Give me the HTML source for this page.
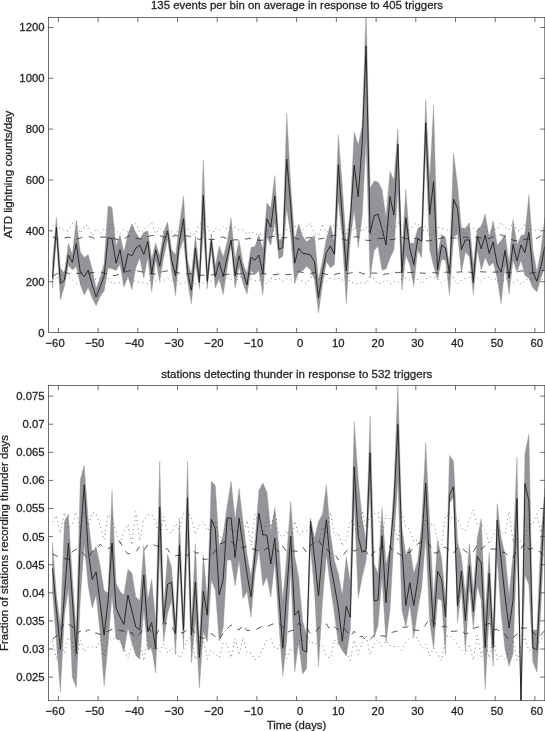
<!DOCTYPE html>
<html lang="en"><head><meta charset="utf-8"><title>Superposed epoch analysis</title>
<style>html,body{margin:0;padding:0;background:#fff}body{width:545px;height:731px;overflow:hidden}svg{display:block}text{font-family:"Liberation Sans",sans-serif;fill:#231f20;stroke:#231f20;stroke-width:0.28px}</style></head><body>
<svg width="545" height="731" viewBox="0 0 545 731">
<rect width="545" height="731" fill="#fff"/>
<defs><clipPath id="ct"><rect x="48.5" y="17.5" width="496.3" height="315"/></clipPath><clipPath id="cb"><rect x="48.5" y="385.6" width="496.3" height="315.1"/></clipPath></defs>
<g clip-path="url(#ct)">
<path d="M52.5,262 L56.4,217.5 L60.4,268.3 L64.4,273 L68.4,243 L72.3,254.5 L76.3,220.3 L80.3,252 L84.2,257.5 L88.2,254.4 L92.2,269.4 L96.1,288.3 L100.1,278.3 L104.1,263.8 L108.1,205.9 L112,207.3 L116,245.9 L120,234.9 L123.9,252.3 L127.9,234 L131.9,224 L135.8,232.4 L139.8,238.8 L143.8,232.5 L147.8,230.8 L151.7,259.4 L155.7,242.9 L159.7,255.7 L163.6,232.3 L167.6,221.8 L171.6,249.6 L175.6,254.9 L179.5,224.8 L183.5,196 L187.5,260 L191.4,275 L195.4,236 L199.4,270.7 L203.3,160 L207.3,270.7 L211.3,233.9 L215.3,266 L219.2,245.9 L223.2,257 L227.2,242 L231.1,218 L235.1,259.4 L239.1,240.6 L243,263.2 L247,273.7 L251,247.4 L255,246.6 L258.9,234.6 L262.9,249.7 L266.9,203 L270.8,208 L274.8,175.5 L278.8,239.9 L282.8,238.4 L286.7,113.3 L290.7,185 L294.7,240.6 L298.6,224 L302.6,236 L306.6,241.8 L310.5,238.8 L314.5,235.4 L318.5,279.7 L322.5,260.2 L326.4,238.4 L330.4,224.8 L334.4,242 L338.3,135.1 L342.3,186 L346.3,245 L350.3,210 L354.2,132 L358.2,144.9 L362.2,126 L366.1,10 L370.1,188.5 L374.1,181 L378,182 L382,189.5 L386,217.5 L390,171.2 L393.9,180.2 L397.9,129 L401.9,255 L405.8,189.4 L409.8,243.2 L413.8,243.2 L417.7,228.5 L421.7,226 L425.7,99.5 L429.7,180 L433.6,105.5 L437.6,255 L441.6,234.2 L445.5,237.6 L449.5,266.2 L453.5,153 L457.5,185 L461.4,227.8 L465.4,228.2 L469.4,222.6 L473.3,265 L477.3,229.3 L481.3,226.3 L485.2,214 L489.2,237.6 L493.2,221 L497.2,245 L501.1,240.6 L505.1,234.6 L509.1,263.2 L513,219.6 L517,245 L521,235.4 L524.9,234.6 L528.9,195 L532.9,249.7 L536.9,272.2 L540.8,251 L544.8,218 L544.8,267.7 L540.8,278.2 L536.9,291.8 L532.9,288 L528.9,278.2 L524.9,275.2 L521,260.2 L517,272.2 L513,260.2 L509.1,294 L505.1,264.7 L501.1,303.8 L497.2,278.2 L493.2,262.4 L489.2,266.2 L485.2,257.2 L481.3,270 L477.3,249.7 L473.3,294.4 L469.4,256.7 L465.4,252 L461.4,272.2 L457.5,233.9 L453.5,237.6 L449.5,295.5 L445.5,260 L441.6,259.4 L437.6,279.7 L433.6,266 L429.7,249.7 L425.7,150 L421.7,258 L417.7,249.7 L413.8,286.5 L409.8,265 L405.8,255 L401.9,290 L397.9,190 L393.9,250 L390,258 L386,269 L382,270 L378,246.3 L374.1,250.5 L370.1,278 L366.1,140 L362.2,216 L358.2,247.3 L354.2,210 L350.3,240 L346.3,303.8 L342.3,238 L338.3,200 L334.4,264.7 L330.4,267.7 L326.4,261.7 L322.5,284.3 L318.5,313 L314.5,279.7 L310.5,270 L306.6,266.2 L302.6,270.7 L298.6,272.2 L294.7,283.5 L290.7,235 L286.7,208 L282.8,256.4 L278.8,258.7 L274.8,222 L270.8,245.5 L266.9,236.9 L262.9,294.8 L258.9,270.7 L255,274.5 L251,270.7 L247,294 L243,283.5 L239.1,266.2 L235.1,288 L231.1,245 L227.2,267.7 L223.2,294.8 L219.2,278.2 L215.3,288 L211.3,249.7 L207.3,288.8 L203.3,230 L199.4,288.8 L195.4,263 L191.4,303.8 L187.5,281 L183.5,239 L179.5,251 L175.6,295.5 L171.6,270.7 L167.6,239 L163.6,258 L159.7,281.3 L155.7,259.4 L151.7,291.8 L147.8,257 L143.8,278.2 L139.8,258 L135.8,267.7 L131.9,289.7 L127.9,276.5 L123.9,287.2 L120,264.2 L116,270.6 L112,268.8 L108.1,267.9 L104.1,291 L100.1,296.5 L96.1,305.8 L92.2,298 L88.2,287.5 L84.2,295 L80.3,284.6 L76.3,266.4 L72.3,270 L68.4,265 L64.4,286 L60.4,300 L56.4,238 L52.5,288Z" fill="#939598" stroke="#939598" stroke-width="0.4" stroke-linejoin="miter"/>
<path d="M52.5,236.8 L56.4,238.7 L60.4,239.1 L64.4,238 L68.4,237.1 L72.3,238.3 L76.3,239.2 L80.3,238.1 L84.2,236.2 L88.2,236.4 L92.2,237.4 L96.1,239.6 L100.1,237.1 L104.1,237.1 L108.1,237 L112,237.7 L116,239.2 L120,239.7 L123.9,239.1 L127.9,236.4 L131.9,235.3 L135.8,238 L139.8,239.1 L143.8,238.1 L147.8,236.6 L151.7,235.5 L155.7,235.5 L159.7,235.6 L163.6,237 L167.6,237 L171.6,236.4 L175.6,235.5 L179.5,236.2 L183.5,236.4 L187.5,235.8 L191.4,236.9 L195.4,237.7 L199.4,239.6 L203.3,237.7 L207.3,239 L211.3,239.6 L215.3,239.4 L219.2,237.4 L223.2,237 L227.2,238.8 L231.1,240.6 L235.1,239.7 L239.1,240.1 L243,239.3 L247,238.9 L251,238.2 L255,238.8 L258.9,240.4 L262.9,240.2 L266.9,239.3 L270.8,236.9 L274.8,236.1 L278.8,236.7 L282.8,237.9 L286.7,237.7 L290.7,236.9 L294.7,237.8 L298.6,239.3 L302.6,238.8 L306.6,238 L310.5,237.5 L314.5,238.7 L318.5,238.9 L322.5,238.6 L326.4,237.7 L330.4,236.2 L334.4,235.2 L338.3,235.8 L342.3,238.7 L346.3,240.3 L350.3,239.4 L354.2,237 L358.2,236.7 L362.2,238.5 L366.1,240.3 L370.1,240.4 L374.1,240 L378,238.4 L382,238.3 L386,238.6 L390,239.6 L393.9,239.5 L397.9,237.4 L401.9,237.3 L405.8,238.8 L409.8,238 L413.8,238.7 L417.7,238.3 L421.7,241 L425.7,240.8 L429.7,240.8 L433.6,239.7 L437.6,239.2 L441.6,238 L445.5,236.6 L449.5,237.6 L453.5,238 L457.5,238.4 L461.4,237.3 L465.4,237.1 L469.4,237.5 L473.3,237.1 L477.3,237.2 L481.3,238 L485.2,238.8 L489.2,238.6 L493.2,236.8 L497.2,235.6 L501.1,234.8 L505.1,236.5 L509.1,238.4 L513,240.2 L517,240.9 L521,240.7 L524.9,239.1 L528.9,239.2 L532.9,238.8 L536.9,238.3 L540.8,235.8 L544.8,233.8" fill="none" stroke="#231f20" stroke-width="0.75" stroke-dasharray="6.2 6.4"/>
<path d="M52.5,276.2 L56.4,274.1 L60.4,272 L64.4,271.8 L68.4,273.4 L72.3,274.7 L76.3,273.5 L80.3,273.2 L84.2,273 L88.2,273.7 L92.2,272.6 L96.1,272.2 L100.1,271.8 L104.1,273.1 L108.1,274.4 L112,275.7 L116,275.3 L120,274 L123.9,272.4 L127.9,271.2 L131.9,270.3 L135.8,270.7 L139.8,271.4 L143.8,272.2 L147.8,273.2 L151.7,273.7 L155.7,274.1 L159.7,272.6 L163.6,271.4 L167.6,270.9 L171.6,270.6 L175.6,271.8 L179.5,273.3 L183.5,274.6 L187.5,273.8 L191.4,273.6 L195.4,273.9 L199.4,275.2 L203.3,275.2 L207.3,275.1 L211.3,275.2 L215.3,273.9 L219.2,274.5 L223.2,274.9 L227.2,274.4 L231.1,273.9 L235.1,273.3 L239.1,274 L243,273.5 L247,273 L251,274 L255,274 L258.9,274.8 L262.9,273.4 L266.9,274.3 L270.8,274.5 L274.8,274.7 L278.8,274 L282.8,274 L286.7,274.7 L290.7,274.5 L294.7,272.8 L298.6,271.9 L302.6,272.4 L306.6,272.3 L310.5,273.6 L314.5,272.6 L318.5,274.4 L322.5,273 L326.4,274.6 L330.4,274.1 L334.4,274.6 L338.3,273.5 L342.3,273.4 L346.3,273.6 L350.3,273.1 L354.2,272.1 L358.2,271.9 L362.2,273.4 L366.1,274.3 L370.1,273.3 L374.1,273 L378,273.3 L382,275.2 L386,273.8 L390,273.8 L393.9,271.8 L397.9,272.9 L401.9,271.8 L405.8,272.2 L409.8,272.7 L413.8,272.3 L417.7,273 L421.7,273 L425.7,273.3 L429.7,272.6 L433.6,272.6 L437.6,273 L441.6,274.2 L445.5,272.2 L449.5,272.1 L453.5,270.8 L457.5,272.3 L461.4,271.7 L465.4,273.5 L469.4,272 L473.3,273.5 L477.3,271.3 L481.3,271.8 L485.2,272 L489.2,272.4 L493.2,272.2 L497.2,271.9 L501.1,272.4 L505.1,272.1 L509.1,272.8 L513,272.3 L517,272.2 L521,270.7 L524.9,271.8 L528.9,273.5 L532.9,272.9 L536.9,272.3 L540.8,270.6 L544.8,270.4" fill="none" stroke="#231f20" stroke-width="0.75" stroke-dasharray="6.2 6.4"/>
<path d="M52.5,225.6 L56.4,229.6 L60.4,227.3 L64.4,230.4 L68.4,230.6 L72.3,223.4 L76.3,222.7 L80.3,233.4 L84.2,225.9 L88.2,225.5 L92.2,235.4 L96.1,228.6 L100.1,233.4 L104.1,228.7 L108.1,230.8 L112,224.5 L116,230.8 L120,233.8 L123.9,229.3 L127.9,232.1 L131.9,231.2 L135.8,223.3 L139.8,232.4 L143.8,230.2 L147.8,226.4 L151.7,222.9 L155.7,233.8 L159.7,228.6 L163.6,231.8 L167.6,233.9 L171.6,231.8 L175.6,234.5 L179.5,227.6 L183.5,232.9 L187.5,228.3 L191.4,234.7 L195.4,233.9 L199.4,223.8 L203.3,224.3 L207.3,225.3 L211.3,235.1 L215.3,228.2 L219.2,230.6 L223.2,226.4 L227.2,229.1 L231.1,227.5 L235.1,227.1 L239.1,230.1 L243,230.1 L247,234.3 L251,231.4 L255,234.6 L258.9,233.6 L262.9,235.4 L266.9,231.2 L270.8,224.6 L274.8,233.7 L278.8,235 L282.8,234.3 L286.7,229.9 L290.7,231.8 L294.7,225.2 L298.6,233.3 L302.6,230 L306.6,226.2 L310.5,223.3 L314.5,233.6 L318.5,235.4 L322.5,223.7 L326.4,232.9 L330.4,227.8 L334.4,224.5 L338.3,226.3 L342.3,232.5 L346.3,233.8 L350.3,223.1 L354.2,230.5 L358.2,223.1 L362.2,231.8 L366.1,226.8 L370.1,234 L374.1,235.2 L378,229.1 L382,235.5 L386,226.5 L390,223.5 L393.9,230.3 L397.9,222.9 L401.9,225.1 L405.8,227.8 L409.8,230.4 L413.8,224.5 L417.7,223.1 L421.7,233.8 L425.7,226.6 L429.7,235 L433.6,234.2 L437.6,227.4 L441.6,228.5 L445.5,229.3 L449.5,230.9 L453.5,230.2 L457.5,229.8 L461.4,230.6 L465.4,234.7 L469.4,229.1 L473.3,228.1 L477.3,231.9 L481.3,225.6 L485.2,226.4 L489.2,235.2 L493.2,229.3 L497.2,229.6 L501.1,222.6 L505.1,227.9 L509.1,230 L513,222.8 L517,230.5 L521,230.7 L524.9,223.3 L528.9,230.7 L532.9,228.6 L536.9,231.3 L540.8,227.1 L544.8,231.7" fill="none" stroke="#4a4a4a" stroke-width="0.85" stroke-dasharray="0.85 3.6"/>
<path d="M52.5,278.5 L56.4,277.5 L60.4,279.7 L64.4,277.9 L68.4,277.2 L72.3,279.8 L76.3,283.7 L80.3,282.8 L84.2,282.5 L88.2,278.4 L92.2,280.8 L96.1,278.8 L100.1,278 L104.1,277.5 L108.1,278.3 L112,283.7 L116,283 L120,282.8 L123.9,282.8 L127.9,278.2 L131.9,279.1 L135.8,281.5 L139.8,282.3 L143.8,283.2 L147.8,283.4 L151.7,277.4 L155.7,281.3 L159.7,281.8 L163.6,280.5 L167.6,278.1 L171.6,280.3 L175.6,277.4 L179.5,283.8 L183.5,283.3 L187.5,280.9 L191.4,279 L195.4,283.6 L199.4,281 L203.3,283.4 L207.3,283.1 L211.3,280.6 L215.3,279.8 L219.2,281.3 L223.2,280 L227.2,277.9 L231.1,279 L235.1,282.9 L239.1,277 L243,277.1 L247,281.5 L251,278.8 L255,280.8 L258.9,280.3 L262.9,279.3 L266.9,284.3 L270.8,278.2 L274.8,279.8 L278.8,278.2 L282.8,281.5 L286.7,278.8 L290.7,279.4 L294.7,282.4 L298.6,279.1 L302.6,280.9 L306.6,283.6 L310.5,277.5 L314.5,277.2 L318.5,278.4 L322.5,282.5 L326.4,281.4 L330.4,278.5 L334.4,279.2 L338.3,278 L342.3,280.2 L346.3,277 L350.3,282 L354.2,283.5 L358.2,284 L362.2,282.3 L366.1,284 L370.1,276.8 L374.1,278.9 L378,284 L382,282.6 L386,279.8 L390,283.9 L393.9,281.4 L397.9,282.9 L401.9,278.9 L405.8,278.2 L409.8,280.1 L413.8,277.7 L417.7,279.6 L421.7,284 L425.7,279.2 L429.7,276.8 L433.6,277 L437.6,278 L441.6,282.7 L445.5,279.5 L449.5,278.9 L453.5,277.4 L457.5,284.2 L461.4,279.9 L465.4,278.3 L469.4,277.2 L473.3,277.1 L477.3,278 L481.3,281.8 L485.2,277.8 L489.2,277 L493.2,280.4 L497.2,278.6 L501.1,284.3 L505.1,277.6 L509.1,280.7 L513,282.6 L517,279.8 L521,284.2 L524.9,280.3 L528.9,278.5 L532.9,279.8 L536.9,277 L540.8,279.9 L544.8,278.6" fill="none" stroke="#4a4a4a" stroke-width="0.85" stroke-dasharray="0.85 3.6"/>
<path d="M52.5,278 L56.4,227.5 L60.4,283.5 L64.4,280.2 L68.4,255 L72.3,262.4 L76.3,243.5 L80.3,272 L84.2,276.7 L88.2,270.3 L92.2,284.8 L96.1,297 L100.1,287 L104.1,276 L108.1,237.6 L112,238.5 L116,263.3 L120,249.5 L123.9,272.5 L127.9,253.9 L131.9,256 L135.8,248.1 L139.8,245.1 L143.8,254.5 L147.8,241.4 L151.7,273.7 L155.7,249.7 L159.7,266.2 L163.6,243.6 L167.6,230.8 L171.6,260.2 L175.6,276 L179.5,240.6 L183.5,218.8 L187.5,272.2 L191.4,290.3 L195.4,247.8 L199.4,282.3 L203.3,195.3 L207.3,281.3 L211.3,240.6 L215.3,276.7 L219.2,261.7 L223.2,276.7 L227.2,257 L231.1,240 L235.1,276 L239.1,255.7 L243,271.5 L247,285 L251,257.2 L255,260.2 L258.9,255 L262.9,273.7 L266.9,218.8 L270.8,227 L274.8,196.2 L278.8,249.4 L282.8,247.4 L286.7,159 L290.7,205 L294.7,263.2 L298.6,248.1 L302.6,253.4 L306.6,253.9 L310.5,254.9 L314.5,261.7 L318.5,297.8 L322.5,272.2 L326.4,252.7 L330.4,245.9 L334.4,254.2 L338.3,164.8 L342.3,217 L346.3,271 L350.3,219 L354.2,165.2 L358.2,196.8 L362.2,142.6 L366.1,46 L370.1,233.3 L374.1,215.8 L378,214.2 L382,228.5 L386,245 L390,196.6 L393.9,215.1 L397.9,144.1 L401.9,273 L405.8,217.5 L409.8,248 L413.8,264.7 L417.7,239 L421.7,241.2 L425.7,122.8 L429.7,214.5 L433.6,181.5 L437.6,270 L441.6,245 L445.5,248 L449.5,273.7 L453.5,199 L457.5,208.3 L461.4,249.7 L465.4,239.9 L469.4,239.9 L473.3,282.4 L477.3,236 L481.3,248.9 L485.2,235.2 L489.2,253.4 L493.2,242 L497.2,264.7 L501.1,272.2 L505.1,250.4 L509.1,278.2 L513,244.4 L517,260.9 L521,245 L524.9,252.7 L528.9,232.4 L532.9,272.2 L536.9,281.3 L540.8,267 L544.8,246.6" fill="none" stroke="#231f20" stroke-width="0.92" stroke-linejoin="miter" stroke-miterlimit="3"/>
</g>
<g clip-path="url(#cb)">
<path d="M52.5,542.5 L56.4,595 L60.4,626 L64.4,521.6 L68.4,514.2 L72.3,576.7 L76.3,631.7 L80.3,479.4 L84.2,465.6 L88.2,520 L92.2,552.8 L96.1,546.4 L100.1,565.7 L104.1,590.5 L108.1,593 L112,490.4 L116,583 L120,591.4 L123.9,595 L127.9,569.4 L131.9,573 L135.8,596.9 L139.8,600.5 L143.8,545.4 L147.8,600 L151.7,579.4 L155.7,622.6 L159.7,461 L163.6,609.7 L167.6,554.6 L171.6,567.5 L175.6,622.6 L179.5,518 L183.5,620.7 L187.5,461 L191.4,626.2 L195.4,543.5 L199.4,642.8 L203.3,554.7 L207.3,600.5 L211.3,481.2 L215.3,485.6 L219.2,547.4 L223.2,535 L227.2,505.6 L231.1,481.2 L235.1,520 L239.1,488.6 L243,521.6 L247,554.6 L251,576.7 L255,541.8 L258.9,490.4 L262.9,483 L266.9,492.2 L270.8,530.8 L274.8,507.8 L278.8,545.4 L282.8,600.5 L286.7,556 L290.7,501.4 L294.7,556.4 L298.6,576.7 L302.6,620.7 L306.6,635.4 L310.5,518 L314.5,538 L318.5,521.6 L322.5,514.2 L326.4,484.9 L330.4,533 L334.4,560.6 L338.3,573.4 L342.3,595.4 L346.3,556.9 L350.3,582.6 L354.2,421.6 L358.2,479.4 L362.2,518.3 L366.1,540.4 L370.1,416 L374.1,564 L378,573.4 L382,507.5 L386,564.2 L390,548 L393.9,486 L397.9,385 L401.9,527.5 L405.8,555 L409.8,546.8 L413.8,573.4 L417.7,560.6 L421.7,523.9 L425.7,442.7 L429.7,523.4 L433.6,600.5 L437.6,540 L441.6,558.3 L445.5,600.5 L449.5,455.5 L453.5,461 L457.5,541.8 L461.4,556.4 L465.4,595 L469.4,543.6 L473.3,591.4 L477.3,538 L481.3,518.8 L485.2,613.4 L489.2,552.6 L493.2,628 L497.2,503.7 L501.1,537.6 L505.1,554.8 L509.1,595 L513,555 L517,457 L521,700 L524.9,453.7 L528.9,434.3 L532.9,630 L536.9,630 L540.8,540 L544.8,488 L544.8,520 L540.8,610 L536.9,672 L532.9,662 L528.9,585 L524.9,575 L521,706 L517,545 L513,653.8 L509.1,666.3 L505.1,650 L501.1,613.4 L497.2,558 L493.2,666.3 L489.2,613.4 L485.2,689 L481.3,600.5 L477.3,586 L473.3,628 L469.4,586 L465.4,652 L461.4,589.5 L457.5,622.6 L453.5,497 L449.5,503 L445.5,654.7 L441.6,600.5 L437.6,598.7 L433.6,648.3 L429.7,622.6 L425.7,536.7 L421.7,588 L417.7,610 L413.8,637.7 L409.8,604.6 L405.8,626.7 L401.9,610 L397.9,480 L393.9,540 L390,610 L386,642.3 L382,577 L378,625.5 L374.1,637.7 L370.1,490 L366.1,560.6 L362.2,577 L358.2,598 L354.2,500 L350.3,630 L346.3,656 L342.3,650.5 L338.3,643.2 L334.4,613.8 L330.4,586 L326.4,554.7 L322.5,600.5 L318.5,666.6 L314.5,591.4 L310.5,547 L306.6,668.5 L302.6,674 L298.6,642.8 L294.7,672 L290.7,567.5 L286.7,641 L282.8,676 L278.8,622.6 L274.8,562 L270.8,596.9 L266.9,576.7 L262.9,585.9 L258.9,549 L255,573 L251,617 L247,591.4 L243,598.7 L239.1,560 L235.1,585.9 L231.1,560 L227.2,560 L223.2,628 L219.2,641 L215.3,590 L211.3,580 L207.3,641.8 L203.3,631.7 L199.4,688 L195.4,619 L191.4,663 L187.5,540 L183.5,648.3 L179.5,565 L175.6,654.7 L171.6,600.5 L167.6,613.4 L163.6,641.8 L159.7,551 L155.7,673 L151.7,648 L147.8,650 L143.8,610 L139.8,659.3 L135.8,655.6 L131.9,642.8 L127.9,628 L123.9,652 L120,640 L116,639 L112,595 L108.1,643.5 L104.1,686 L100.1,633 L96.1,595 L92.2,607.9 L88.2,585.9 L84.2,544 L80.3,600 L76.3,687.4 L72.3,677 L68.4,588 L64.4,616 L60.4,692 L56.4,643 L52.5,589.5Z" fill="#939598" stroke="#939598" stroke-width="0.4" stroke-linejoin="miter"/>
<path d="M52.5,554.2 L56.4,555.7 L60.4,558.5 L64.4,558.5 L68.4,559.6 L72.3,551.7 L76.3,549.3 L80.3,549.5 L84.2,554.8 L88.2,558.6 L92.2,551.4 L96.1,549.9 L100.1,544.2 L104.1,547.9 L108.1,548.8 L112,546.8 L116,544 L120,541.4 L123.9,549.2 L127.9,554 L131.9,553 L135.8,551.9 L139.8,546.5 L143.8,550.5 L147.8,544.7 L151.7,543.5 L155.7,545.7 L159.7,546.4 L163.6,548.2 L167.6,549.2 L171.6,554.9 L175.6,555.6 L179.5,555.4 L183.5,552.5 L187.5,555.9 L191.4,549.3 L195.4,552.8 L199.4,552.9 L203.3,559.5 L207.3,559.1 L211.3,555.7 L215.3,550.5 L219.2,544.2 L223.2,542.8 L227.2,540.3 L231.1,541.4 L235.1,545.4 L239.1,544.9 L243,548.1 L247,545.8 L251,548.5 L255,549.7 L258.9,550.9 L262.9,551 L266.9,548.1 L270.8,550 L274.8,547.8 L278.8,552.1 L282.8,546.1 L286.7,552.1 L290.7,551 L294.7,551 L298.6,551.3 L302.6,547.2 L306.6,552 L310.5,545.3 L314.5,542.5 L318.5,539.1 L322.5,547.3 L326.4,548.5 L330.4,553.5 L334.4,553.3 L338.3,559.8 L342.3,556.2 L346.3,551.2 L350.3,547.6 L354.2,551.3 L358.2,549.2 L362.2,551.1 L366.1,551.3 L370.1,557.8 L374.1,551.7 L378,553 L382,546.3 L386,548.9 L390,546 L393.9,553.2 L397.9,553.2 L401.9,555.9 L405.8,552.7 L409.8,552.4 L413.8,547.2 L417.7,544 L421.7,542 L425.7,540.5 L429.7,544.9 L433.6,552.9 L437.6,553 L441.6,547.5 L445.5,547.4 L449.5,550.6 L453.5,553.7 L457.5,547.2 L461.4,547.7 L465.4,551.4 L469.4,553.3 L473.3,551.8 L477.3,545.1 L481.3,549.1 L485.2,545.7 L489.2,549.5 L493.2,548.8 L497.2,549.7 L501.1,551.7 L505.1,552.7 L509.1,557 L513,557.5 L517,550.2 L521,548.5 L524.9,543 L528.9,549.4 L532.9,548.2 L536.9,550.8 L540.8,552.1 L544.8,558.2" fill="none" stroke="#231f20" stroke-width="0.75" stroke-dasharray="6.2 6.4"/>
<path d="M52.5,639.1 L56.4,636 L60.4,630.7 L64.4,622.5 L68.4,624.2 L72.3,626.3 L76.3,633.9 L80.3,631 L84.2,634 L88.2,629.2 L92.2,633.4 L96.1,633 L100.1,634.5 L104.1,631.8 L108.1,631.3 L112,629.1 L116,629.3 L120,630.5 L123.9,631.2 L127.9,633.7 L131.9,632.5 L135.8,638.3 L139.8,633.7 L143.8,627.7 L147.8,627.3 L151.7,632 L155.7,635.5 L159.7,628.4 L163.6,622.4 L167.6,624.3 L171.6,626.2 L175.6,633.8 L179.5,633.3 L183.5,632.4 L187.5,629.4 L191.4,627.2 L195.4,634.5 L199.4,637 L203.3,638.6 L207.3,635.7 L211.3,633.6 L215.3,636.5 L219.2,639.8 L223.2,633.1 L227.2,628.7 L231.1,624.9 L235.1,627.7 L239.1,630 L243,624.8 L247,630.6 L251,630 L255,630.2 L258.9,628 L262.9,625.9 L266.9,626.7 L270.8,624.9 L274.8,623.2 L278.8,623.3 L282.8,627.1 L286.7,632.7 L290.7,630.8 L294.7,629.9 L298.6,623.1 L302.6,626.3 L306.6,627.5 L310.5,633.6 L314.5,633.3 L318.5,628 L322.5,625.7 L326.4,623.9 L330.4,630.2 L334.4,626.8 L338.3,629.8 L342.3,627.2 L346.3,630.7 L350.3,636.3 L354.2,631.2 L358.2,637.1 L362.2,636.2 L366.1,640.4 L370.1,639.5 L374.1,635.1 L378,636.7 L382,635.7 L386,636.4 L390,632.8 L393.9,631.9 L397.9,630.9 L401.9,627 L405.8,627.4 L409.8,626 L413.8,630 L417.7,630.4 L421.7,629.4 L425.7,624.8 L429.7,618.2 L433.6,622.3 L437.6,625.7 L441.6,627.1 L445.5,625.7 L449.5,631.4 L453.5,631.3 L457.5,630.9 L461.4,630.4 L465.4,634 L469.4,632.6 L473.3,628.5 L477.3,627.2 L481.3,626 L485.2,625 L489.2,623.3 L493.2,629.9 L497.2,629.3 L501.1,632.9 L505.1,634.5 L509.1,640.5 L513,637.7 L517,634 L521,628 L524.9,628.2 L528.9,627.1 L532.9,631.8 L536.9,637.2 L540.8,635.2 L544.8,630.2" fill="none" stroke="#231f20" stroke-width="0.75" stroke-dasharray="6.2 6.4"/>
<path d="M52.5,521.7 L56.4,515.4 L60.4,533.4 L64.4,512.6 L68.4,529.3 L72.3,523.2 L76.3,512.1 L80.3,528.3 L84.2,511.3 L88.2,525.6 L92.2,512.5 L96.1,513.3 L100.1,525.3 L104.1,539.8 L108.1,514.5 L112,518 L116,532.6 L120,544.1 L123.9,530.8 L127.9,524.3 L131.9,545.1 L135.8,511.7 L139.8,540.9 L143.8,520.4 L147.8,515.2 L151.7,514.2 L155.7,521.1 L159.7,539.4 L163.6,516.5 L167.6,530.9 L171.6,533 L175.6,523.4 L179.5,529.7 L183.5,512.3 L187.5,512.1 L191.4,517.4 L195.4,534.5 L199.4,525.4 L203.3,521.3 L207.3,531.1 L211.3,526.3 L215.3,520.8 L219.2,538.6 L223.2,535.2 L227.2,518.8 L231.1,530.7 L235.1,528.9 L239.1,541.5 L243,536.3 L247,520.4 L251,545.3 L255,514.3 L258.9,525.1 L262.9,537.3 L266.9,515.5 L270.8,527.6 L274.8,511.4 L278.8,534.1 L282.8,537.5 L286.7,530.6 L290.7,541.5 L294.7,521.3 L298.6,535 L302.6,531.4 L306.6,530.9 L310.5,526.4 L314.5,540.2 L318.5,544 L322.5,527.1 L326.4,533.9 L330.4,512.2 L334.4,535.3 L338.3,533.3 L342.3,545.8 L346.3,539.6 L350.3,520.2 L354.2,523.9 L358.2,534.1 L362.2,510.8 L366.1,526.6 L370.1,516 L374.1,514.2 L378,512.1 L382,537.7 L386,514.7 L390,518.9 L393.9,524.1 L397.9,541.4 L401.9,512.9 L405.8,526.2 L409.8,529.8 L413.8,541.8 L417.7,539.5 L421.7,541.1 L425.7,520 L429.7,525 L433.6,522.9 L437.6,541.8 L441.6,544.5 L445.5,515.4 L449.5,516.3 L453.5,518.4 L457.5,518.4 L461.4,527.5 L465.4,531.2 L469.4,519.5 L473.3,510.1 L477.3,525.1 L481.3,523.3 L485.2,530.4 L489.2,544.3 L493.2,534.9 L497.2,528.6 L501.1,532.2 L505.1,534.3 L509.1,511.9 L513,542.4 L517,538.1 L521,541.5 L524.9,538.7 L528.9,524.1 L532.9,524.4 L536.9,513.7 L540.8,532.8 L544.8,512.2" fill="none" stroke="#4a4a4a" stroke-width="0.85" stroke-dasharray="0.85 3.6"/>
<path d="M52.5,640.9 L56.4,660 L60.4,638.3 L64.4,653.3 L68.4,637.2 L72.3,641.4 L76.3,661 L80.3,640.4 L84.2,651.7 L88.2,646.9 L92.2,646.8 L96.1,647.9 L100.1,640 L104.1,656.6 L108.1,637.3 L112,641.1 L116,635.5 L120,641.9 L123.9,645.6 L127.9,658.5 L131.9,644.9 L135.8,638 L139.8,641.7 L143.8,660.8 L147.8,636.6 L151.7,651.1 L155.7,644.8 L159.7,652.2 L163.6,643.8 L167.6,653 L171.6,647.9 L175.6,651.9 L179.5,658.4 L183.5,650.1 L187.5,638.7 L191.4,636.7 L195.4,659.6 L199.4,647.7 L203.3,640 L207.3,659.6 L211.3,650.1 L215.3,654 L219.2,657.9 L223.2,642.4 L227.2,644.3 L231.1,657.8 L235.1,638.5 L239.1,654.9 L243,637.5 L247,652.9 L251,653.3 L255,659.7 L258.9,656.9 L262.9,648.1 L266.9,640.1 L270.8,638.9 L274.8,648.7 L278.8,648.3 L282.8,636.9 L286.7,658.5 L290.7,648.2 L294.7,653.2 L298.6,640.7 L302.6,641.3 L306.6,635.3 L310.5,643.9 L314.5,641.9 L318.5,646 L322.5,644.8 L326.4,656.7 L330.4,658.2 L334.4,639.6 L338.3,645.3 L342.3,639.3 L346.3,652.2 L350.3,660.3 L354.2,640.2 L358.2,654.9 L362.2,642.8 L366.1,635.3 L370.1,654.9 L374.1,643.9 L378,639.4 L382,646.3 L386,641 L390,645.7 L393.9,646.6 L397.9,645.9 L401.9,650.3 L405.8,642.5 L409.8,637.5 L413.8,637.2 L417.7,637.8 L421.7,648.5 L425.7,644.4 L429.7,656 L433.6,648.1 L437.6,653.4 L441.6,660.5 L445.5,636.6 L449.5,635.4 L453.5,638.7 L457.5,645 L461.4,649.9 L465.4,654.3 L469.4,644.1 L473.3,660.1 L477.3,635.1 L481.3,656.7 L485.2,640.5 L489.2,657.8 L493.2,635.9 L497.2,660.1 L501.1,654.7 L505.1,660.8 L509.1,650.1 L513,639.6 L517,660.2 L521,646.5 L524.9,637.2 L528.9,650.7 L532.9,647.9 L536.9,647.3 L540.8,639 L544.8,638.2" fill="none" stroke="#4a4a4a" stroke-width="0.85" stroke-dasharray="0.85 3.6"/>
<path d="M52.5,568.4 L56.4,609.7 L60.4,649.5 L64.4,595 L68.4,543 L72.3,598.7 L76.3,654 L80.3,538 L84.2,484.9 L88.2,551 L92.2,579.4 L96.1,572 L100.1,602.4 L104.1,635.2 L108.1,600.5 L112,543 L116,607.9 L120,617 L123.9,624.4 L127.9,595 L131.9,610.6 L135.8,627 L139.8,630 L143.8,575 L147.8,631.7 L151.7,622.6 L155.7,649.2 L159.7,507 L163.6,621.6 L167.6,584 L171.6,582.2 L175.6,633.6 L179.5,545.4 L183.5,630 L187.5,497.7 L191.4,635.4 L195.4,582.2 L199.4,657.4 L203.3,591.4 L207.3,615.2 L211.3,519.3 L215.3,528.6 L219.2,595 L223.2,579.5 L227.2,518 L231.1,518 L235.1,557.5 L239.1,518 L243,545.5 L247,574 L251,596.9 L255,555 L258.9,513.3 L262.9,534.4 L266.9,535.3 L270.8,564 L274.8,538 L278.8,593.2 L282.8,648.3 L286.7,592.3 L290.7,536.3 L294.7,615.2 L298.6,610.6 L302.6,650 L306.6,652 L310.5,521 L314.5,558.3 L318.5,596 L322.5,549 L326.4,519.7 L330.4,564 L334.4,585.3 L338.3,607.3 L342.3,641.4 L346.3,606 L350.3,617.4 L354.2,466.6 L358.2,536.7 L362.2,552.3 L366.1,549.5 L370.1,452.8 L374.1,601 L378,600 L382,536.2 L386,602.8 L390,550 L393.9,505 L397.9,424.4 L401.9,546 L405.8,605.5 L409.8,582.6 L413.8,605.5 L417.7,580.7 L421.7,542.2 L425.7,483 L429.7,570 L433.6,627.2 L437.6,571.2 L441.6,579.4 L445.5,617 L449.5,494.5 L453.5,486.8 L457.5,606 L461.4,571.2 L465.4,620.7 L469.4,565.7 L473.3,611.6 L477.3,556.5 L481.3,563 L485.2,647.4 L489.2,573.3 L493.2,647.4 L497.2,520.2 L501.1,560 L505.1,597 L509.1,628 L513,600 L517,498.3 L521,704 L524.9,483.6 L528.9,501 L532.9,648 L536.9,650 L540.8,576 L544.8,497" fill="none" stroke="#231f20" stroke-width="0.92" stroke-linejoin="miter" stroke-miterlimit="3"/>
</g>
<rect x="48.5" y="17.5" width="496.3" height="315" fill="none" stroke="#3c3c3c" stroke-width="0.75"/>
<path d="M58.4,332.5 v-4.6 M58.4,17.5 v4.6 M98.1,332.5 v-4.6 M98.1,17.5 v4.6 M137.8,332.5 v-4.6 M137.8,17.5 v4.6 M177.5,332.5 v-4.6 M177.5,17.5 v4.6 M217.2,332.5 v-4.6 M217.2,17.5 v4.6 M256.9,332.5 v-4.6 M256.9,17.5 v4.6 M296.6,332.5 v-4.6 M296.6,17.5 v4.6 M336.4,332.5 v-4.6 M336.4,17.5 v4.6 M376.1,332.5 v-4.6 M376.1,17.5 v4.6 M415.8,332.5 v-4.6 M415.8,17.5 v4.6 M455.5,332.5 v-4.6 M455.5,17.5 v4.6 M495.2,332.5 v-4.6 M495.2,17.5 v4.6 M534.9,332.5 v-4.6 M534.9,17.5 v4.6 M48.5,281.7 h4.6 M544.8,281.7 h-4.6 M48.5,230.8 h4.6 M544.8,230.8 h-4.6 M48.5,180 h4.6 M544.8,180 h-4.6 M48.5,129.1 h4.6 M544.8,129.1 h-4.6 M48.5,78.3 h4.6 M544.8,78.3 h-4.6 M48.5,27.5 h4.6 M544.8,27.5 h-4.6" fill="none" stroke="#3c3c3c" stroke-width="0.75"/>
<rect x="48.5" y="385.6" width="496.3" height="315.1" fill="none" stroke="#3c3c3c" stroke-width="0.75"/>
<path d="M58.4,700.7 v-4.6 M58.4,385.6 v4.6 M98.1,700.7 v-4.6 M98.1,385.6 v4.6 M137.8,700.7 v-4.6 M137.8,385.6 v4.6 M177.5,700.7 v-4.6 M177.5,385.6 v4.6 M217.2,700.7 v-4.6 M217.2,385.6 v4.6 M256.9,700.7 v-4.6 M256.9,385.6 v4.6 M296.6,700.7 v-4.6 M296.6,385.6 v4.6 M336.4,700.7 v-4.6 M336.4,385.6 v4.6 M376.1,700.7 v-4.6 M376.1,385.6 v4.6 M415.8,700.7 v-4.6 M415.8,385.6 v4.6 M455.5,700.7 v-4.6 M455.5,385.6 v4.6 M495.2,700.7 v-4.6 M495.2,385.6 v4.6 M534.9,700.7 v-4.6 M534.9,385.6 v4.6 M48.5,677.1 h4.6 M544.8,677.1 h-4.6 M48.5,649 h4.6 M544.8,649 h-4.6 M48.5,620.9 h4.6 M544.8,620.9 h-4.6 M48.5,592.8 h4.6 M544.8,592.8 h-4.6 M48.5,564.7 h4.6 M544.8,564.7 h-4.6 M48.5,536.6 h4.6 M544.8,536.6 h-4.6 M48.5,508.5 h4.6 M544.8,508.5 h-4.6 M48.5,480.4 h4.6 M544.8,480.4 h-4.6 M48.5,452.3 h4.6 M544.8,452.3 h-4.6 M48.5,424.2 h4.6 M544.8,424.2 h-4.6 M48.5,396.1 h4.6 M544.8,396.1 h-4.6" fill="none" stroke="#3c3c3c" stroke-width="0.75"/>
<g font-size="11.3" text-anchor="end">
<text x="44.5" y="337.4">0</text>
<text x="44.5" y="285.6">200</text>
<text x="44.5" y="234.7">400</text>
<text x="44.5" y="183.9">600</text>
<text x="44.5" y="133">800</text>
<text x="44.5" y="82.2">1000</text>
<text x="44.5" y="31.4">1200</text>
<text x="44.5" y="681">0.025</text>
<text x="44.5" y="652.9">0.03</text>
<text x="44.5" y="624.8">0.035</text>
<text x="44.5" y="596.7">0.04</text>
<text x="44.5" y="568.6">0.045</text>
<text x="44.5" y="540.5">0.05</text>
<text x="44.5" y="512.4">0.055</text>
<text x="44.5" y="484.3">0.06</text>
<text x="44.5" y="456.2">0.065</text>
<text x="44.5" y="428.1">0.07</text>
<text x="44.5" y="400">0.075</text>
</g>
<g font-size="11.3" text-anchor="middle">
<text x="55.1" y="347.2">−60</text>
<text x="94.8" y="347.2">−50</text>
<text x="134.5" y="347.2">−40</text>
<text x="174.2" y="347.2">−30</text>
<text x="213.9" y="347.2">−20</text>
<text x="253.6" y="347.2">−10</text>
<text x="300.1" y="347.2">0</text>
<text x="338.2" y="347.2">10</text>
<text x="377.9" y="347.2">20</text>
<text x="417.6" y="347.2">30</text>
<text x="457.3" y="347.2">40</text>
<text x="497" y="347.2">50</text>
<text x="536.7" y="347.2">60</text>
<text x="55.1" y="715.2">−60</text>
<text x="94.8" y="715.2">−50</text>
<text x="134.5" y="715.2">−40</text>
<text x="174.2" y="715.2">−30</text>
<text x="213.9" y="715.2">−20</text>
<text x="253.6" y="715.2">−10</text>
<text x="300.1" y="715.2">0</text>
<text x="338.2" y="715.2">10</text>
<text x="377.9" y="715.2">20</text>
<text x="417.6" y="715.2">30</text>
<text x="457.3" y="715.2">40</text>
<text x="497" y="715.2">50</text>
<text x="536.7" y="715.2">60</text>
</g>
<g font-size="11.4" text-anchor="middle">
<text x="297" y="8.5">135 events per bin on average in response to 405 triggers</text>
<text x="296.7" y="377.7" font-size="11.5">stations detecting thunder in response to 532 triggers</text>
<text x="296.5" y="728.6">Time (days)</text>
<text transform="translate(12,174.5) rotate(-90)" font-size="11.55">ATD lightning counts/day</text>
<text transform="translate(7.8,543) rotate(-90)">Fraction of stations recording thunder days</text>
</g>
</svg></body></html>
